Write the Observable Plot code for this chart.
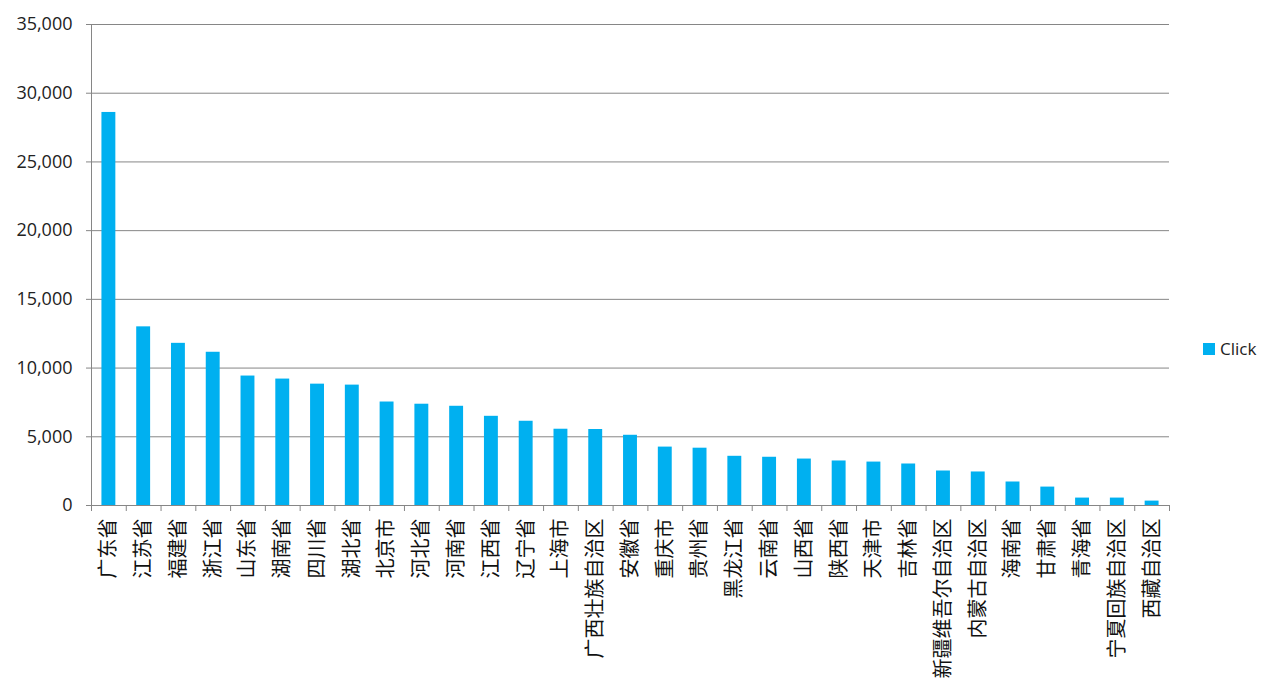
<!DOCTYPE html>
<html><head><meta charset="utf-8">
<script src="https://cdn.jsdelivr.net/npm/d3@7"></script>
<script src="https://cdn.jsdelivr.net/npm/@observablehq/plot@0.6"></script>
<style>
body{margin:0;background:#fff;}
#wrap{position:relative;width:1281px;height:699px;}
#legend{position:absolute;left:1203px;top:337px;display:flex;align-items:center;font-family:"Open Sans",sans-serif;font-size:17px;color:#222;}
#legend .sw{display:inline-block;width:12px;height:12px;background:#00b0f0;margin-right:5px;}
</style></head>
<body><div id="wrap"></div>
<script>
const provinces = ["广东省","江苏省","福建省","浙江省","山东省","湖南省","四川省","湖北省","北京市","河北省","河南省","江西省","辽宁省","上海市","广西壮族自治区","安徽省","重庆市","贵州省","黑龙江省","云南省","山西省","陕西省","天津市","吉林省","新疆维吾尔自治区","内蒙古自治区","海南省","甘肃省","青海省","宁夏回族自治区","西藏自治区"];
const clicks = [28600,13000,11800,11150,9420,9200,8830,8760,7530,7370,7220,6490,6130,5550,5530,5110,4250,4170,3580,3510,3380,3240,3160,3020,2510,2440,1710,1340,540,540,320];
const yTicks = [0,5000,10000,15000,20000,25000,30000,35000];
const seriesName = "Click";

const data = provinces.map((p, i) => ({province: p, click: clicks[i]}));
const W = 1281, H = 699, ML = 91, MR = 112, MT = 24, MB = 194;
const step = (W - ML - MR) / provinces.length;
const grey = "#868686";
const barColor = "#00b0f0";

const chart = Plot.plot({
  width: W, height: H,
  marginLeft: ML, marginRight: MR, marginTop: MT, marginBottom: MB,
  style: {fontFamily: "'Open Sans', 'Noto Sans CJK SC', sans-serif", background: "#fff", color: "#222"},
  x: {domain: provinces, paddingInner: 0.6, paddingOuter: 0.3, round: false, label: null},
  y: {domain: [yTicks[0], yTicks[yTicks.length - 1]], label: null},
  marks: [
    Plot.gridY(yTicks, {stroke: grey, strokeOpacity: 1}),
    Plot.barY(data, {x: "province", y: "click", fill: barColor}),
    Plot.ruleY([yTicks[0]], {stroke: grey}),
    Plot.ruleX([provinces[0]], {dx: -step / 2, y1: yTicks[0], y2: yTicks[yTicks.length - 1], stroke: grey}),
    Plot.axisY(yTicks, {tickSize: 5, tickPadding: 14, tickFormat: d3.format(","), stroke: grey, fill: "#222", fontSize: 18, label: null}),
    Plot.axisX(provinces, {tickSize: 6, tickFormat: () => "", dx: -step / 2, stroke: grey, label: null}),
    Plot.axisX([provinces[provinces.length - 1]], {tickSize: 6, tickFormat: () => "", dx: step / 2, stroke: grey, label: null}),
    Plot.axisX(provinces, {tickSize: 0, tickPadding: 13, tickRotate: -90, fontSize: 20, fontFamily: "'Noto Sans CJK SC', sans-serif", fill: "#111", label: null})
  ]
});
const wrap = document.getElementById("wrap");
wrap.appendChild(chart);
const legend = document.createElement("div");
legend.id = "legend";
legend.innerHTML = `<span class="sw"></span><span>${seriesName}</span>`;
wrap.appendChild(legend);
</script>
</body></html>
